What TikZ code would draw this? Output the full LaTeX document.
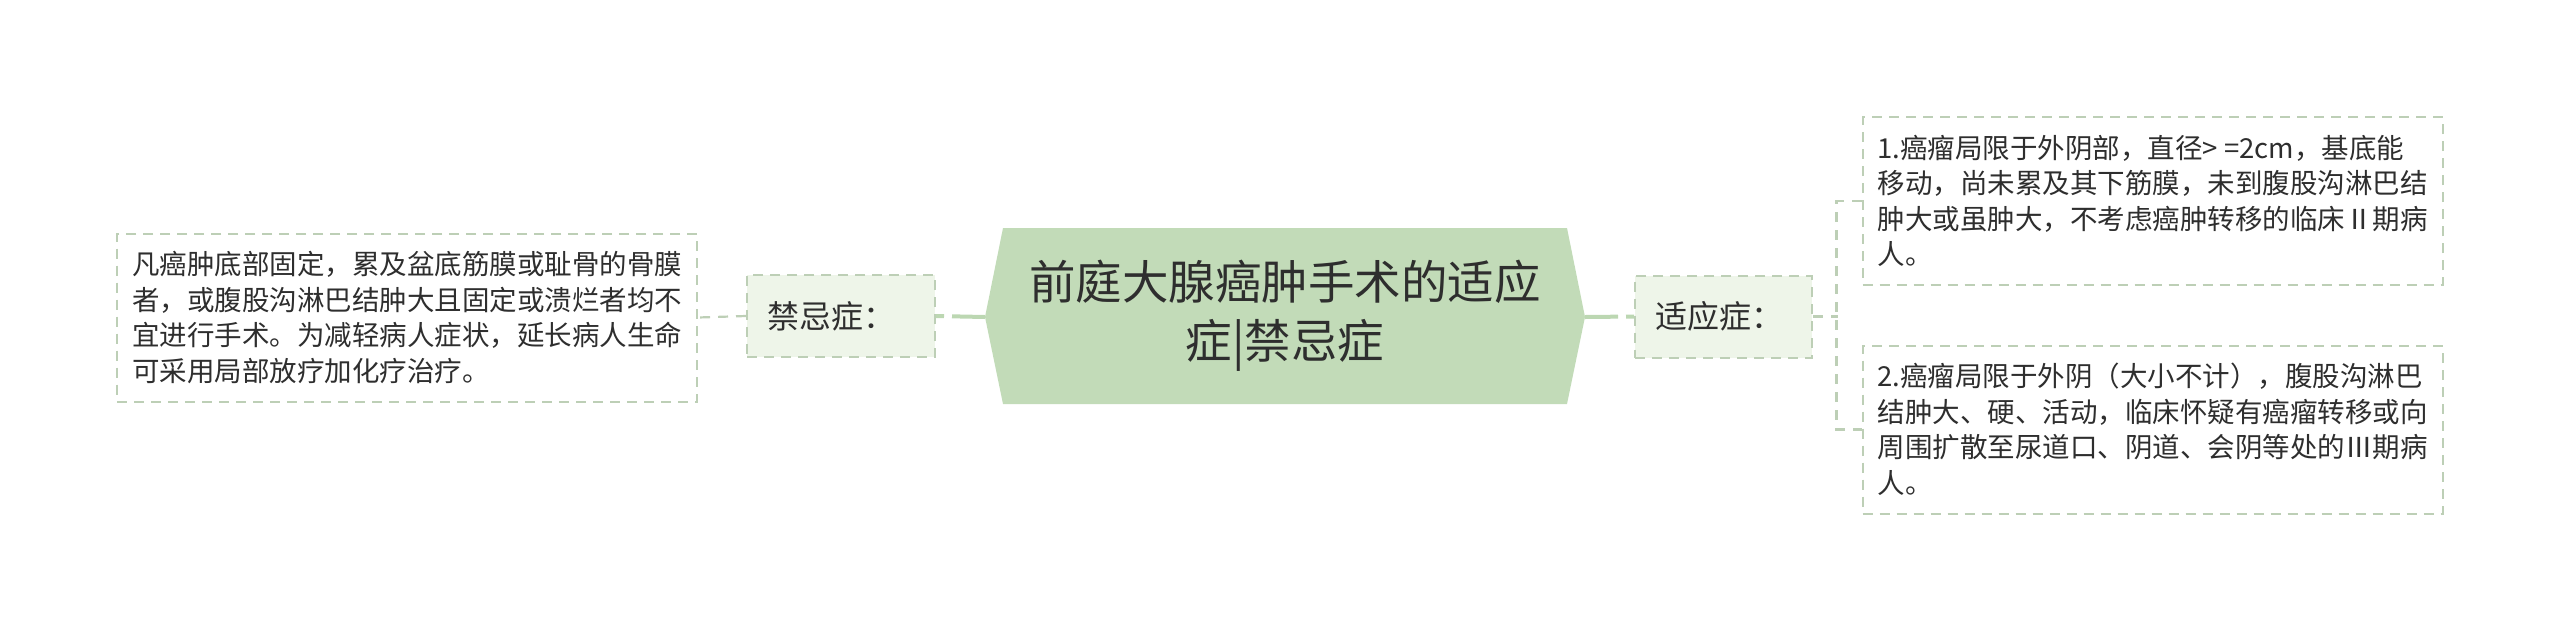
\documentclass[tikz,border=0pt]{standalone}
\usepackage{fontspec}
\setmainfont{Noto Sans CJK SC}
\definecolor{hexfill}{HTML}{C2DBB8}
\definecolor{labfill}{HTML}{EEF5E9}
\definecolor{dborder}{HTML}{BDCFB6}
\definecolor{solidcon}{HTML}{BCD7B2}
\definecolor{txt}{HTML}{2E2E2E}
\tikzset{
  textbox/.style={draw=dborder, line width=2pt, dash pattern=on 10pt off 7pt, fill=white,
    minimum width=580pt, minimum height=168pt, inner sep=0pt, align=left, text=txt,
    font=\fontsize{27.5}{35.5}\selectfont},
  labbox/.style={draw=dborder, line width=2pt, dash pattern=on 10pt off 7pt, fill=labfill,
    minimum height=82pt, inner ysep=0pt, inner xsep=20pt, align=left, text=txt, font=\fontsize{32}{38}\selectfont},
  titletext/.style={align=center, text=txt, inner sep=0pt, font=\fontsize{46.5}{59}\selectfont},
  maincon/.style={draw=solidcon, line width=4pt, dash pattern=on 33pt off 8pt on 30pt off 1pt},
  dcon/.style={draw=dborder, line width=2.2pt, dash pattern=on 10pt off 8pt}
}
\begin{document}
\begin{tikzpicture}[x=1pt,y=-1pt]
\useasboundingbox (0,0) rectangle (2560,633);
% central hexagon
\fill[hexfill] (985,317) -- (1003,228) -- (1567,228) -- (1585,317) -- (1567,404) -- (1003,404) -- cycle;
\coordinate (hl) at (985,317);
\coordinate (hr) at (1585,317);
\node[titletext] (title) at (1285,316) {前庭大腺癌肿手术的适应\\症|禁忌症};
% label boxes
\node[labbox, text width=148pt] (jj) at (841,316) {禁忌症：};
\node[labbox, text width=137pt] (sy) at (1723.5,316.5) {适应症：};
% text boxes
\node[textbox] (lb) at (407,317.5) {凡癌肿底部固定，累及盆底筋膜或耻骨的骨膜\\者，或腹股沟淋巴结肿大且固定或溃烂者均不\\宜进行手术。为减轻病人症状，延长病人生命\\可采用局部放疗加化疗治疗。};
\node[textbox] (b1) at (2152.5,201) {1.癌瘤局限于外阴部，直径> =2cm，基底能\\移动，尚未累及其下筋膜，未到腹股沟淋巴结\\肿大或虽肿大，不考虑癌肿转移的临床Ⅱ期病\\人。};
\node[textbox] (b2) at (2152.5,429.5) {2.癌瘤局限于外阴（大小不计），腹股沟淋巴\\结肿大、硬、活动，临床怀疑有癌瘤转移或向\\周围扩散至尿道口、阴道、会阴等处的Ⅲ期病\\人。};
% connectors
\draw[maincon] (hl) -- (jj.east);
\draw[maincon] (hr) -- (sy.west);
\draw[dcon] (jj.west) -- (lb.east);
\coordinate (br) at (1838,316.5);
\draw[dcon] (sy.east) -- (br);
\draw[dcon] (b1.west) -- ++(-25,0) |- (b2.west);
\end{tikzpicture}
\end{document}
